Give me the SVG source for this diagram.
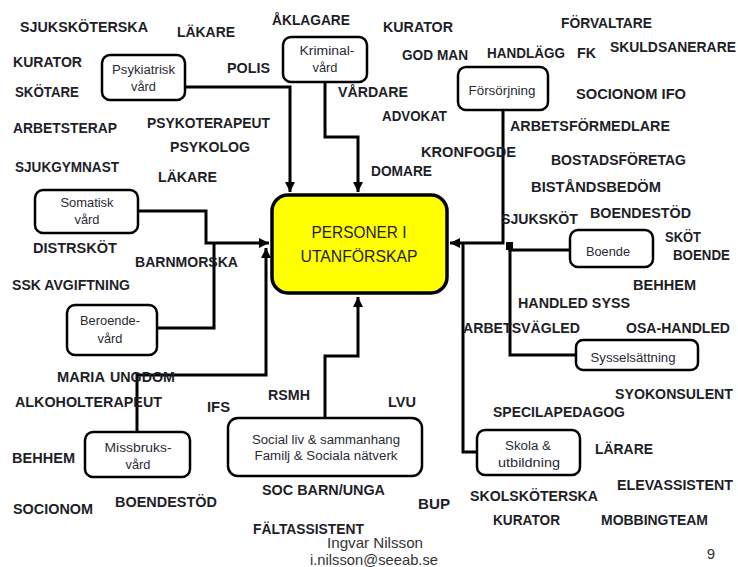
<svg xmlns="http://www.w3.org/2000/svg" width="738" height="567" viewBox="0 0 738 567">
<style>
.lbl{font-family:"Liberation Sans",Arial,sans-serif;font-weight:bold;font-size:14px;fill:#1e1e28}
.bt{font-family:"Liberation Sans",Arial,sans-serif;font-size:12.5px;fill:#2a2a35;text-anchor:middle}
.mt{font-family:"Liberation Sans",Arial,sans-serif;font-size:17px;fill:#222;text-anchor:middle}
.ft{font-family:"Liberation Sans",Arial,sans-serif;font-size:15px;fill:#333;text-anchor:middle}
.box{fill:#fff;stroke:#000;stroke-width:2.5}
.con{fill:none;stroke:#000;stroke-width:3}
</style>
<defs>
<marker id="ah" markerUnits="userSpaceOnUse" markerWidth="10" markerHeight="10" refX="10" refY="5" orient="auto"><path d="M0,0 L10,5 L0,10 z" fill="#000"/></marker>
</defs>
<rect width="738" height="567" fill="#fff"/>

<g id="connectors">
<path class="con" d="M185,87 H290 V192" marker-end="url(#ah)"/>
<path class="con" d="M325,82 V137 H358 V192" marker-end="url(#ah)"/>
<path class="con" d="M138,211 H206 V243 H269" marker-end="url(#ah)"/>
<path class="con" d="M157,328 H214 V243"/>
<path class="con" d="M137,432 V375 H266 V248" marker-end="url(#ah)"/>
<path class="con" d="M325,418 V356 H358 V297" marker-end="url(#ah)"/>
<path class="con" d="M503,110 V243 H450" marker-end="url(#ah)"/>
<path class="con" d="M570,250 H510 V243"/>
<path class="con" d="M576,355 H510 V250"/>
<path class="con" d="M477,452 H463 V243"/>
<rect x="506" y="242" width="7" height="8" fill="#000"/>
</g>

<g id="main">
<rect x="272" y="195" width="175" height="98" rx="16" fill="#ffff00" stroke="#000" stroke-width="3.5"/>
<text class="mt" x="359" y="238" textLength="95" lengthAdjust="spacingAndGlyphs">PERSONER I</text>
<text class="mt" x="359" y="262" textLength="117" lengthAdjust="spacingAndGlyphs">UTANFÖRSKAP</text>
</g>

<g id="psykiatrisk">
<rect class="box" x="102" y="55" width="83" height="45" rx="8"/>
<text class="bt" x="143.5" y="74" textLength="63" lengthAdjust="spacingAndGlyphs">Psykiatrisk</text>
<text class="bt" x="143.5" y="91" textLength="25" lengthAdjust="spacingAndGlyphs">vård</text>
</g>

<g id="kriminal">
<rect class="box" x="283" y="37" width="84" height="45" rx="8"/>
<text class="bt" x="327" y="55" textLength="55" lengthAdjust="spacingAndGlyphs">Kriminal-</text>
<text class="bt" x="325" y="72" textLength="25" lengthAdjust="spacingAndGlyphs">vård</text>
</g>

<g id="somatisk">
<rect class="box" x="35" y="190" width="103" height="43" rx="8"/>
<text class="bt" x="87" y="207" textLength="53" lengthAdjust="spacingAndGlyphs">Somatisk</text>
<text class="bt" x="87" y="224" textLength="25" lengthAdjust="spacingAndGlyphs">vård</text>
</g>

<g id="beroende">
<rect class="box" x="67" y="305" width="90" height="50" rx="8"/>
<text class="bt" x="110" y="325" textLength="60" lengthAdjust="spacingAndGlyphs">Beroende-</text>
<text class="bt" x="110" y="343" textLength="25" lengthAdjust="spacingAndGlyphs">vård</text>
</g>

<g id="missbruk">
<rect class="box" x="85" y="432" width="105" height="45" rx="8"/>
<text class="bt" x="138" y="452" textLength="67" lengthAdjust="spacingAndGlyphs">Missbruks-</text>
<text class="bt" x="138" y="469" textLength="25" lengthAdjust="spacingAndGlyphs">vård</text>
</g>

<g id="social">
<rect class="box" x="228" y="418" width="194" height="58" rx="10"/>
<text class="bt" x="326" y="444" textLength="148" lengthAdjust="spacingAndGlyphs">Social liv &amp; sammanhang</text>
<text class="bt" x="326" y="460" textLength="143" lengthAdjust="spacingAndGlyphs">Familj  &amp; Sociala  nätverk</text>
</g>

<g id="forsorjning">
<rect class="box" x="458" y="67" width="90" height="43" rx="8"/>
<text class="bt" x="502" y="95" textLength="67" lengthAdjust="spacingAndGlyphs">Försörjning</text>
</g>

<g id="boende">
<rect class="box" x="570" y="230" width="83" height="37" rx="8"/>
<text class="bt" x="608" y="256" textLength="44" lengthAdjust="spacingAndGlyphs">Boende</text>
</g>

<g id="sysselsattning">
<rect class="box" x="576" y="340" width="122" height="30" rx="7"/>
<text class="bt" x="633" y="362" textLength="85" lengthAdjust="spacingAndGlyphs">Sysselsättning</text>
</g>

<g id="skola">
<rect class="box" x="477" y="430" width="103" height="45" rx="8"/>
<text class="bt" x="528" y="450" textLength="46" lengthAdjust="spacingAndGlyphs">Skola &amp;</text>
<text class="bt" x="529" y="467" textLength="62" lengthAdjust="spacingAndGlyphs">utbildning</text>
</g>

<g id="labels">
<text class="lbl" x="20" y="32" textLength="128" lengthAdjust="spacingAndGlyphs">SJUKSKÖTERSKA</text>
<text class="lbl" x="177" y="37" textLength="58" lengthAdjust="spacingAndGlyphs">LÄKARE</text>
<text class="lbl" x="13" y="67" textLength="69" lengthAdjust="spacingAndGlyphs">KURATOR</text>
<text class="lbl" x="15" y="97" textLength="64" lengthAdjust="spacingAndGlyphs">SKÖTARE</text>
<text class="lbl" x="227" y="73" textLength="43" lengthAdjust="spacingAndGlyphs">POLIS</text>
<text class="lbl" x="13" y="133" textLength="104" lengthAdjust="spacingAndGlyphs">ARBETSTERAP</text>
<text class="lbl" x="147" y="128" textLength="123" lengthAdjust="spacingAndGlyphs">PSYKOTERAPEUT</text>
<text class="lbl" x="170" y="152" textLength="80" lengthAdjust="spacingAndGlyphs">PSYKOLOG</text>
<text class="lbl" x="15" y="172" textLength="104" lengthAdjust="spacingAndGlyphs">SJUKGYMNAST</text>
<text class="lbl" x="158" y="182" textLength="59" lengthAdjust="spacingAndGlyphs">LÄKARE</text>
<text class="lbl" x="272" y="25" textLength="78" lengthAdjust="spacingAndGlyphs">ÅKLAGARE</text>
<text class="lbl" x="383" y="32" textLength="70" lengthAdjust="spacingAndGlyphs">KURATOR</text>
<text class="lbl" x="402" y="60" textLength="66" lengthAdjust="spacingAndGlyphs">GOD MAN</text>
<text class="lbl" x="338" y="97" textLength="70" lengthAdjust="spacingAndGlyphs">VÅRDARE</text>
<text class="lbl" x="382" y="121" textLength="65" lengthAdjust="spacingAndGlyphs">ADVOKAT</text>
<text class="lbl" x="421" y="157" textLength="95" lengthAdjust="spacingAndGlyphs">KRONFOGDE</text>
<text class="lbl" x="371" y="176" textLength="61" lengthAdjust="spacingAndGlyphs">DOMARE</text>
<text class="lbl" x="561" y="28" textLength="91" lengthAdjust="spacingAndGlyphs">FÖRVALTARE</text>
<text class="lbl" x="487" y="58" textLength="78" lengthAdjust="spacingAndGlyphs">HANDLÄGG</text>
<text class="lbl" x="577" y="58" textLength="19" lengthAdjust="spacingAndGlyphs">FK</text>
<text class="lbl" x="610" y="52" textLength="126" lengthAdjust="spacingAndGlyphs">SKULDSANERARE</text>
<text class="lbl" x="576" y="99" textLength="110" lengthAdjust="spacingAndGlyphs">SOCIONOM IFO</text>
<text class="lbl" x="510" y="131" textLength="160" lengthAdjust="spacingAndGlyphs">ARBETSFÖRMEDLARE</text>
<text class="lbl" x="551" y="165" textLength="135" lengthAdjust="spacingAndGlyphs">BOSTADSFÖRETAG</text>
<text class="lbl" x="531" y="192" textLength="130" lengthAdjust="spacingAndGlyphs">BISTÅNDSBEDÖM</text>
<text class="lbl" x="501" y="224" textLength="77" lengthAdjust="spacingAndGlyphs">SJUKSKÖT</text>
<text class="lbl" x="590" y="218" textLength="101" lengthAdjust="spacingAndGlyphs">BOENDESTÖD</text>
<text class="lbl" x="665" y="242" textLength="36" lengthAdjust="spacingAndGlyphs">SKÖT</text>
<text class="lbl" x="673" y="260" textLength="57" lengthAdjust="spacingAndGlyphs">BOENDE</text>
<text class="lbl" x="633" y="290" textLength="63" lengthAdjust="spacingAndGlyphs">BEHHEM</text>
<text class="lbl" x="518" y="308" textLength="112" lengthAdjust="spacingAndGlyphs">HANDLED SYSS</text>
<text class="lbl" x="463" y="333" textLength="117" lengthAdjust="spacingAndGlyphs">ARBETSVÄGLED</text>
<text class="lbl" x="626" y="333" textLength="104" lengthAdjust="spacingAndGlyphs">OSA-HANDLED</text>
<text class="lbl" x="615" y="399" textLength="118" lengthAdjust="spacingAndGlyphs">SYOKONSULENT</text>
<text class="lbl" x="493" y="417" textLength="132" lengthAdjust="spacingAndGlyphs">SPECILAPEDAGOG</text>
<text class="lbl" x="595" y="454" textLength="58" lengthAdjust="spacingAndGlyphs">LÄRARE</text>
<text class="lbl" x="617" y="490" textLength="116" lengthAdjust="spacingAndGlyphs">ELEVASSISTENT</text>
<text class="lbl" x="470" y="501" textLength="128" lengthAdjust="spacingAndGlyphs">SKOLSKÖTERSKA</text>
<text class="lbl" x="493" y="525" textLength="67" lengthAdjust="spacingAndGlyphs">KURATOR</text>
<text class="lbl" x="601" y="525" textLength="107" lengthAdjust="spacingAndGlyphs">MOBBINGTEAM</text>
<text class="lbl" x="268" y="400" textLength="42" lengthAdjust="spacingAndGlyphs">RSMH</text>
<text class="lbl" x="388" y="407" textLength="28" lengthAdjust="spacingAndGlyphs">LVU</text>
<text class="lbl" x="262" y="495" textLength="123" lengthAdjust="spacingAndGlyphs">SOC BARN/UNGA</text>
<text class="lbl" x="418" y="509" textLength="32" lengthAdjust="spacingAndGlyphs">BUP</text>
<text class="lbl" x="253" y="534" textLength="111" lengthAdjust="spacingAndGlyphs">FÄLTASSISTENT</text>
<text class="lbl" x="57" y="382" textLength="48" lengthAdjust="spacingAndGlyphs">MARIA</text>
<text class="lbl" x="110" y="382" textLength="65" lengthAdjust="spacingAndGlyphs">UNGDOM</text>
<text class="lbl" x="15" y="407" textLength="147" lengthAdjust="spacingAndGlyphs">ALKOHOLTERAPEUT</text>
<text class="lbl" x="207" y="412" textLength="23" lengthAdjust="spacingAndGlyphs">IFS</text>
<text class="lbl" x="12" y="463" textLength="63" lengthAdjust="spacingAndGlyphs">BEHHEM</text>
<text class="lbl" x="13" y="514" textLength="80" lengthAdjust="spacingAndGlyphs">SOCIONOM</text>
<text class="lbl" x="115" y="507" textLength="102" lengthAdjust="spacingAndGlyphs">BOENDESTÖD</text>
<text class="lbl" x="33" y="253" textLength="84" lengthAdjust="spacingAndGlyphs">DISTRSKÖT</text>
<text class="lbl" x="135" y="267" textLength="103" lengthAdjust="spacingAndGlyphs">BARNMORSKA</text>
<text class="lbl" x="12" y="290" textLength="118" lengthAdjust="spacingAndGlyphs">SSK AVGIFTNING</text>
</g>

<g id="footer">
<text class="ft" x="375" y="548" textLength="96" lengthAdjust="spacingAndGlyphs">Ingvar Nilsson</text>
<text class="ft" x="374" y="565" textLength="128" lengthAdjust="spacingAndGlyphs">i.nilsson@seeab.se</text>
<text class="ft" x="711" y="559">9</text>
</g>
</svg>
